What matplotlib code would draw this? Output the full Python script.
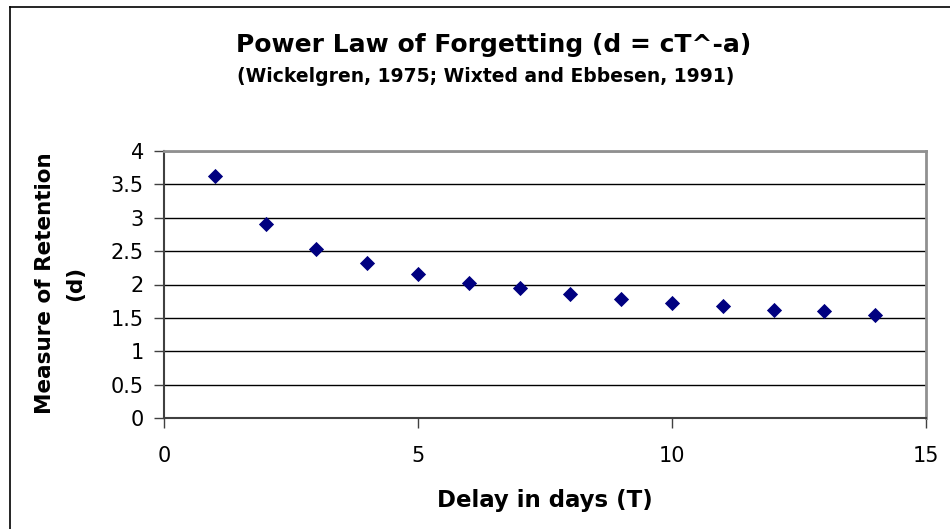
import matplotlib
matplotlib.use("Agg")
import matplotlib.pyplot as plt
from matplotlib.lines import Line2D

delay_days = [1, 2, 3, 4, 5, 6, 7, 8, 9, 10, 11, 12, 13, 14]
retention = [3.63, 2.91, 2.53, 2.32, 2.16, 2.02, 1.95, 1.86, 1.78, 1.73, 1.68, 1.62, 1.60, 1.54]
x_ticks = [0, 5, 10, 15]
y_ticks = [0, 0.5, 1, 1.5, 2, 2.5, 3, 3.5, 4]
y_tick_labels = ["0", "0.5", "1", "1.5", "2", "2.5", "3", "3.5", "4"]

plt.rcParams['font.family'] = ['DejaVu Sans']

W, H = 950, 529
fig = plt.figure(figsize=(9.5, 5.29), dpi=100)
ax = fig.add_axes([164/W, 1-418/H, (926-164)/W, (418-151)/H])

ax.scatter(delay_days, retention, marker='D', s=60, color='#000080', zorder=3, linewidths=0)

ax.set_xlim(0, 15)
ax.set_ylim(0, 4)
ax.set_xticks(x_ticks)
ax.set_yticks(y_ticks)
ax.set_yticklabels(y_tick_labels)
ax.yaxis.grid(True, color='black', linewidth=1.0)
ax.set_axisbelow(True)
ax.tick_params(axis='both', direction='out', length=7, width=1, color='#404040', labelsize=15)
ax.tick_params(axis='x', pad=13)
ax.tick_params(axis='y', pad=7.5)
for side in ['left', 'bottom']:
    ax.spines[side].set_color('#404040')
    ax.spines[side].set_linewidth(1.5)
for side in ['top', 'right']:
    ax.spines[side].set_color('#909090')
    ax.spines[side].set_linewidth(2)

fig.text(545/W, 1-507/H, 'Delay in days (T)', ha='center', va='baseline',
         fontsize=16.5, fontweight='bold')
fig.text(60/W, 1-283/H, 'Measure of Retention\n(d)', ha='center', va='center', rotation=90,
         fontsize=15.5, fontweight='bold', linespacing=1.65, multialignment='center')

fig.text(494/W, 1-52/H, 'Power Law of Forgetting (d = cT^-a)', ha='center', va='baseline',
         fontsize=18, fontweight='bold')
fig.text(486/W, 1-82/H, '(Wickelgren, 1975; Wixted and Ebbesen, 1991)', ha='center', va='baseline',
         fontsize=13.5, fontweight='bold')

# outer chart border (top and left)
fig.add_artist(Line2D([10/W, 10/W], [0, 1-7/H], transform=fig.transFigure, color='black', linewidth=1.2))
fig.add_artist(Line2D([10/W, 1], [1-7/H, 1-7/H], transform=fig.transFigure, color='black', linewidth=1.2))

fig.savefig('out.png', dpi=100)
